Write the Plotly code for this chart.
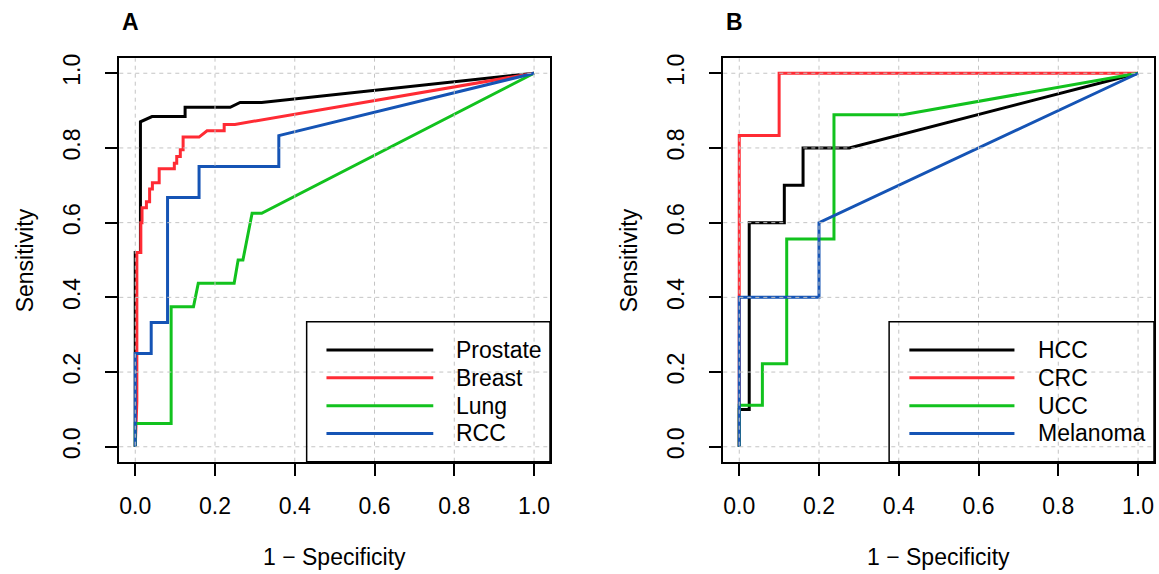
import plotly.graph_objects as go

# ---------------- data ----------------
# Panel A
prostate_fpr = [0, 0, 0.013, 0.013, 0.042, 0.125, 0.125, 0.238, 0.263, 0.317, 1]
prostate_tpr = [0, 0.52, 0.52, 0.87, 0.884, 0.884, 0.909, 0.909, 0.922, 0.922, 1]

breast_fpr = [0, 0.004, 0.004, 0.014, 0.014, 0.017, 0.017, 0.028, 0.028, 0.036, 0.036,
              0.043, 0.043, 0.06, 0.06, 0.098, 0.098, 0.104, 0.104, 0.113, 0.113,
              0.12, 0.12, 0.16, 0.18, 0.223, 0.223, 0.25, 1]
breast_tpr = [0, 0.12, 0.52, 0.52, 0.60, 0.60, 0.64, 0.64, 0.656, 0.656, 0.69,
              0.69, 0.707, 0.707, 0.744, 0.744, 0.759, 0.759, 0.777, 0.777, 0.795,
              0.795, 0.829, 0.829, 0.846, 0.846, 0.863, 0.863, 1]

lung_fpr = [0, 0, 0.09, 0.09, 0.146, 0.158, 0.248, 0.258, 0.27, 0.293, 0.317, 1]
lung_tpr = [0, 0.0625, 0.0625, 0.375, 0.375, 0.4375, 0.4375, 0.5, 0.5, 0.625, 0.625, 1]

rcc_fpr = [0, 0, 0.04, 0.04, 0.081, 0.081, 0.16, 0.16, 0.36, 0.36, 1]
rcc_tpr = [0, 0.25, 0.25, 0.333, 0.333, 0.667, 0.667, 0.75, 0.75, 0.833, 1]

# Panel B
hcc_fpr = [0, 0, 0.025, 0.025, 0.113, 0.113, 0.16, 0.16, 0.276, 1]
hcc_tpr = [0, 0.1, 0.1, 0.6, 0.6, 0.7, 0.7, 0.8, 0.8, 1]

crc_fpr = [0, 0, 0.1, 0.1, 1]
crc_tpr = [0, 0.833, 0.833, 1, 1]

ucc_fpr = [0, 0, 0.058, 0.058, 0.119, 0.119, 0.2375, 0.2375, 0.41, 1]
ucc_tpr = [0, 0.111, 0.111, 0.222, 0.222, 0.556, 0.556, 0.889, 0.889, 1]

mel_fpr = [0, 0, 0.2, 0.2, 1]
mel_tpr = [0, 0.4, 0.4, 0.6, 1]

names_a = ["Prostate", "Breast", "Lung", "RCC"]
names_b = ["HCC", "CRC", "UCC", "Melanoma"]
tick_vals = [0, 0.2, 0.4, 0.6, 0.8, 1.0]
tick_text = ["0.0", "0.2", "0.4", "0.6", "0.8", "1.0"]

colors = ["#000000", "#FF2B34", "#12C21E", "#1554B5"]
FONT = "Liberation Sans, Arial, Helvetica, sans-serif"
FS = 23

W, H = 1159, 574
# plot boxes in pixels
boxA = (119.3, 550.0)
boxB = (723.3, 1154.0)
top_px, bot_px = 58.3, 461.7

fig = go.Figure()

series_a = [(prostate_fpr, prostate_tpr), (breast_fpr, breast_tpr),
            (lung_fpr, lung_tpr), (rcc_fpr, rcc_tpr)]
series_b = [(hcc_fpr, hcc_tpr), (crc_fpr, crc_tpr),
            (ucc_fpr, ucc_tpr), (mel_fpr, mel_tpr)]

for (xs, ys), nm, c in zip(series_a, names_a, colors):
    fig.add_trace(go.Scatter(x=xs, y=ys, mode="lines", name=nm,
                             line=dict(color=c, width=3), xaxis="x", yaxis="y",
                             showlegend=False))
for (xs, ys), nm, c in zip(series_b, names_b, colors):
    fig.add_trace(go.Scatter(x=xs, y=ys, mode="lines", name=nm,
                             line=dict(color=c, width=3), xaxis="x2", yaxis="y2",
                             showlegend=False))

ydom = [(H - bot_px) / H, (H - top_px) / H]

def axis_common(standoff):
    return dict(range=[-0.04, 1.04], tickmode="array", tickvals=tick_vals,
                ticktext=tick_text, ticks="outside", ticklen=13, tickwidth=1.5,
                tickcolor="black", showline=True, linecolor="black", linewidth=1.5,
                mirror=True, showgrid=False, zeroline=False, automargin=False,
                tickfont=dict(family=FONT, size=FS, color="black"),
                ticklabelstandoff=standoff)

xa = axis_common(10); xa["domain"] = [boxA[0] / W, boxA[1] / W]; xa["anchor"] = "y"
xb = axis_common(10); xb["domain"] = [boxB[0] / W, boxB[1] / W]; xb["anchor"] = "y2"
ya = axis_common(15); ya["domain"] = ydom; ya["anchor"] = "x"; ya["tickangle"] = -90
yb = axis_common(15); yb["domain"] = ydom; yb["anchor"] = "x2"; yb["tickangle"] = -90

shapes = []
annotations = []

# grid lines drawn above the curves (as in the reference)
for xr, yr in (("x", "y"), ("x2", "y2")):
    for v in tick_vals:
        shapes.append(dict(type="line", xref=xr, yref=yr + " domain", x0=v, x1=v, y0=0, y1=1,
                           line=dict(color="#C4C4C4", width=1, dash="4px,4px"), layer="above"))
        shapes.append(dict(type="line", xref=xr + " domain", yref=yr, x0=0, x1=1, y0=v, y1=v,
                           line=dict(color="#C4C4C4", width=1, dash="4px,4px"), layer="above"))

# custom legends
legend_cfg = [
    ("x", "y", names_a, 0.435, 0.481, 0.729, 0.777),
    ("x2", "y2", names_b, 0.385, 0.432, 0.676, 0.727),
]
row_y = [0.277, 0.208, 0.139, 0.070]
for xr, yr, names, bx, l0, l1, tx in legend_cfg:
    shapes.append(dict(type="rect", xref=xr + " domain", yref=yr + " domain",
                       x0=bx, x1=1, y0=0, y1=0.347,
                       line=dict(color="black", width=1.5), layer="above"))
    for nm, c, ry in zip(names, colors, row_y):
        shapes.append(dict(type="line", xref=xr + " domain", yref=yr + " domain",
                           x0=l0, x1=l1, y0=ry, y1=ry,
                           line=dict(color=c, width=3), layer="above"))
        annotations.append(dict(xref=xr + " domain", yref=yr + " domain", x=tx, y=ry,
                                text=nm, showarrow=False, xanchor="left", yanchor="middle",
                                font=dict(family=FONT, size=FS, color="black")))

# axis titles and panel letters
for box, letter in ((boxA, "A"), (boxB, "B")):
    cx = (box[0] + box[1]) / 2
    annotations.append(dict(xref="paper", yref="paper", x=cx / W, y=1 - 557 / H,
                            text="1 \u2212 Specificity", showarrow=False,
                            xanchor="center", yanchor="middle",
                            font=dict(family=FONT, size=FS, color="black")))
    annotations.append(dict(xref="paper", yref="paper", x=(box[0] - 94) / W,
                            y=1 - ((top_px + bot_px) / 2) / H,
                            text="Sensitivity", showarrow=False, textangle=-90,
                            xanchor="center", yanchor="middle",
                            font=dict(family=FONT, size=FS, color="black")))
    annotations.append(dict(xref="paper", yref="paper", x=(box[0] + 11) / W, y=1 - 22 / H,
                            text="<b>" + letter + "</b>", showarrow=False,
                            xanchor="center", yanchor="middle",
                            font=dict(family=FONT, size=23, color="black")))

fig.update_layout(
    width=W, height=H,
    margin=dict(l=0, r=0, t=0, b=0),
    paper_bgcolor="white", plot_bgcolor="white",
    xaxis=xa, yaxis=ya, xaxis2=xb, yaxis2=yb,
    shapes=shapes, annotations=annotations,
    showlegend=False,
)

fig.write_html("out.html", config={"displayModeBar": False},
               post_script="document.body.style.margin='0px';")
